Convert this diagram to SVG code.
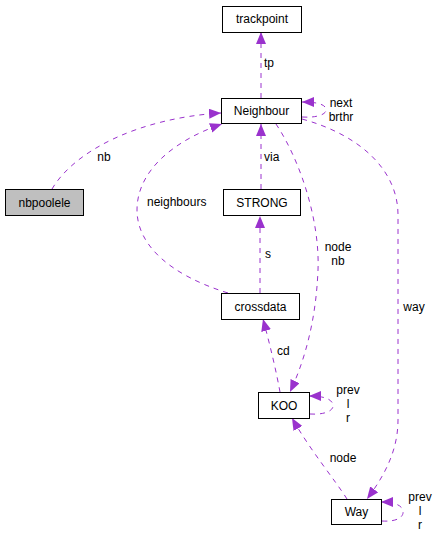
<svg xmlns="http://www.w3.org/2000/svg" width="439" height="539" viewBox="0 0 439 539">
<style>
.box{fill:#fff;stroke:#000;stroke-width:1}
.gray{fill:#bfbfbf}
.t{font-family:"Liberation Sans",Arial,sans-serif;font-size:12px;fill:#000}
.m{text-anchor:middle}
.e{fill:none;stroke:#9a32cd;stroke-width:1;stroke-dasharray:5,5}
</style>
<defs>
<marker id="a" markerWidth="12" markerHeight="10" refX="12" refY="5" orient="auto" markerUnits="userSpaceOnUse">
<path d="M0,0 L12,5 L0,10 z" fill="#9a32cd"/>
</marker>
</defs>
<rect width="439" height="539" fill="#fff"/>
<g id="edges">
<path class="e" d="M261,98 L261,32" marker-end="url(#a)"/>
<text class="t" x="264" y="67">tp</text>
<path class="e" d="M302,117 C318,118 327,114 326,109 C325,104 316,102 302,102" marker-end="url(#a)"/>
<text class="t m" x="341" y="107">next</text>
<text class="t m" x="341" y="121">brthr</text>
<path class="e" d="M52,189 C75,150 140,118 221,113" marker-end="url(#a)"/>
<text class="t m" x="104" y="161">nb</text>
<path class="e" d="M228,293 C170,275 137,245 137,210 C137,170 175,140 222,124" marker-end="url(#a)"/>
<text class="t" x="147" y="206">neighbours</text>
<path class="e" d="M261,189 L261,124" marker-end="url(#a)"/>
<text class="t" x="264" y="161">via</text>
<path class="e" d="M260,293 L260,216" marker-end="url(#a)"/>
<text class="t" x="265" y="258">s</text>
<path class="e" d="M276,124 C300,160 320,220 318,270 C316,320 305,360 290,392" marker-end="url(#a)"/>
<text class="t m" x="338" y="251">node</text>
<text class="t m" x="338" y="265">nb</text>
<path class="e" d="M302,119 C360,135 398,170 398,215 L398,420 C398,450 385,475 367,499" marker-end="url(#a)"/>
<text class="t m" x="414" y="311">way</text>
<path class="e" d="M280,392 C276,370 270,345 263,319" marker-end="url(#a)"/>
<text class="t" x="277" y="355">cd</text>
<path class="e" d="M310,414 C326,415 334,410 333,405 C332,399 324,396 309,396" marker-end="url(#a)"/>
<text class="t m" x="348" y="394">prev</text>
<text class="t m" x="348" y="408">l</text>
<text class="t m" x="348" y="422">r</text>
<path class="e" d="M347,499 C335,480 310,450 292,418" marker-end="url(#a)"/>
<text class="t m" x="343" y="462">node</text>
<path class="e" d="M382,521 C397,522 404,517 403,511 C402,505 394,502 381,502" marker-end="url(#a)"/>
<text class="t m" x="420" y="501">prev</text>
<text class="t m" x="420" y="515">l</text>
<text class="t m" x="420" y="529">r</text>
</g>
<g id="trackpoint"><rect class="box" x="222.5" y="6.5" width="79" height="26"/><text class="t m" x="262" y="23">trackpoint</text></g>
<g id="Neighbour"><rect class="box" x="221.5" y="98.5" width="80" height="25"/><text class="t m" x="261.5" y="115">Neighbour</text></g>
<g id="nbpoolele"><rect class="box gray" x="5.5" y="189.5" width="78" height="26"/><text class="t m" x="44.5" y="207">nbpoolele</text></g>
<g id="STRONG"><rect class="box" x="223.5" y="189.5" width="77" height="26"/><text class="t m" x="262" y="207">STRONG</text></g>
<g id="crossdata"><rect class="box" x="221.5" y="293.5" width="78" height="26"/><text class="t m" x="260.5" y="311">crossdata</text></g>
<g id="KOO"><rect class="box" x="258.5" y="392.5" width="51" height="26"/><text class="t m" x="284" y="410">KOO</text></g>
<g id="Way"><rect class="box" x="331.5" y="499.5" width="50" height="25"/><text class="t m" x="356.5" y="516">Way</text></g>
</svg>
